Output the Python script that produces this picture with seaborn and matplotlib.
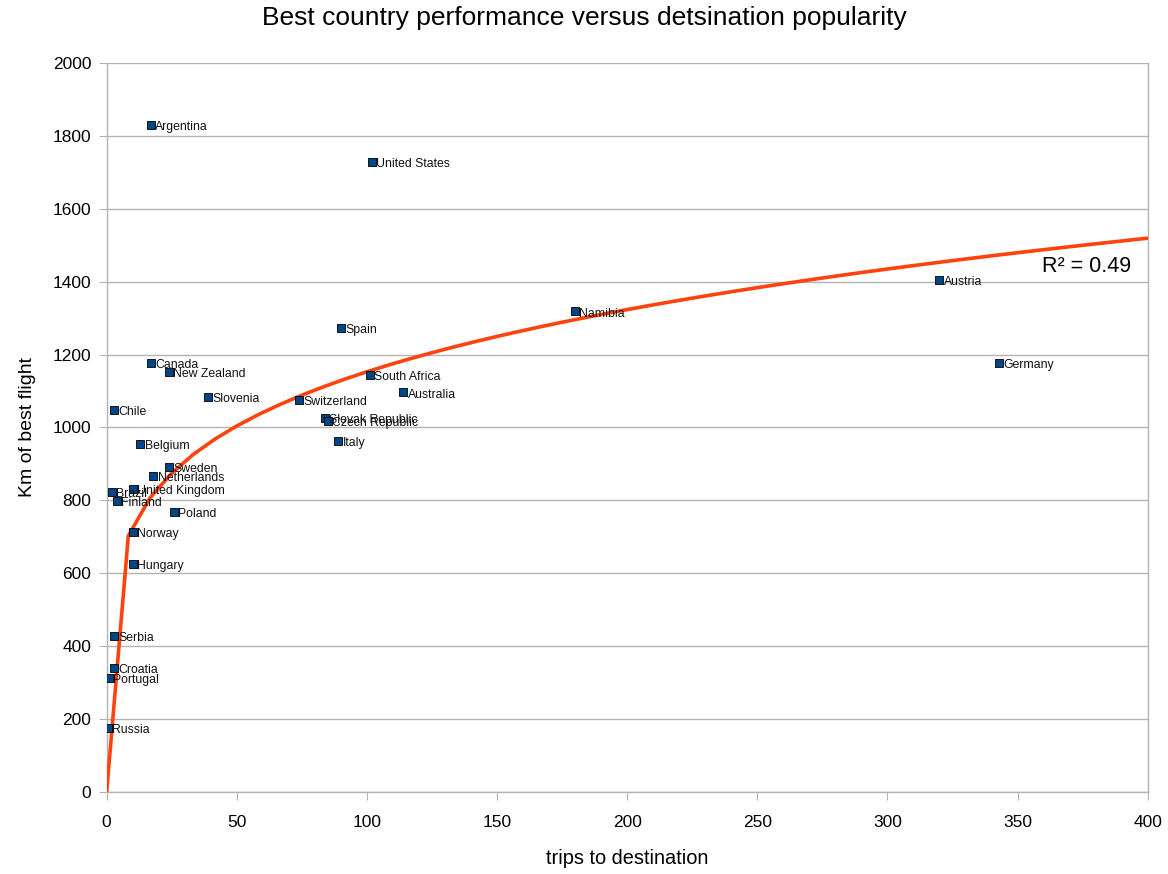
import numpy as np
import pandas as pd
import seaborn as sns
import matplotlib
matplotlib.use("Agg")
import matplotlib.pyplot as plt

# values
countries = ["Argentina", "United States", "Spain", "Namibia", "Austria", "Germany",
             "Canada", "New Zealand", "Slovenia", "Chile", "Belgium", "Sweden",
             "Netherlands", "Brazil", "United Kingdom", "Finland", "Poland", "Norway",
             "Hungary", "Serbia", "Croatia", "Portugal", "Russia", "Switzerland",
             "South Africa", "Australia", "Slovak Republic", "Czech Republic", "Italy"]
trips = [17, 102, 90, 180, 320, 343,
         17, 24, 39, 3, 13, 24,
         18, 2, 10, 4, 26, 10,
         10, 3, 3, 1, 0.5, 74,
         101, 114, 84, 85, 89]
km = [1830, 1727, 1272, 1318, 1405, 1178,
      1176, 1152, 1083, 1047, 956, 893,
      866, 824, 831, 799, 768, 714,
      627, 429, 341, 314, 176, 1075,
      1144, 1096, 1025, 1019, 964]

# power trend line parameters as shown in the chart
trend_coef = 461
trend_exp = 0.199
r_squared = "R² = 0.49"

df = pd.DataFrame({"country": countries, "trips": trips, "km": km})

sns.set_style("white")
plt.rcParams["font.family"] = ["Liberation Sans", "DejaVu Sans"]
plt.rcParams["text.color"] = "black"
plt.rcParams["axes.labelcolor"] = "black"
plt.rcParams["xtick.labelcolor"] = "black"
plt.rcParams["ytick.labelcolor"] = "black"

fig = plt.figure(figsize=(11.68, 8.74), dpi=100)
ax = fig.add_axes([0.0913, 0.0935, 0.8913, 0.8348])

# trend line, sampled coarsely like the spreadsheet does
tx = np.linspace(0, 400, 49)
ty = trend_coef * tx ** trend_exp
sns.lineplot(x=tx, y=ty, ax=ax, color="#ff420e", linewidth=2.6, zorder=3)

sns.scatterplot(data=df, x="trips", y="km", ax=ax, marker="s", s=32,
                color="#004586", edgecolor="black", linewidth=0.6, zorder=4)

for _, row in df.iterrows():
    ax.annotate(row["country"], (row["trips"], row["km"]), xytext=(3, -1.5),
                textcoords="offset points", fontsize=8.8, va="center", ha="left",
                color="#111111", zorder=5)

ax.text(376.6, 1440, r_squared, fontsize=15.5, ha="center", va="center")

ax.set_xlim(0, 400)
ax.set_ylim(0, 2000)
ax.set_xticks(range(0, 401, 50))
ax.set_yticks(range(0, 2001, 200))
ax.yaxis.grid(True, color="#b3b3b3", linewidth=1)
ax.xaxis.grid(False)
ax.tick_params(axis="both", length=6, color="#b3b3b3", labelsize=12.5,
               labelcolor="black", bottom=True, left=True)
ax.tick_params(axis="x", pad=10)
ax.tick_params(axis="y", pad=5)
for side in ["left", "bottom", "right"]:
    ax.spines[side].set_color("#b3b3b3")
    ax.spines[side].set_linewidth(1)
ax.spines["top"].set_visible(False)

ax.set_xlabel("trips to destination", fontsize=14.4, labelpad=14)
ax.set_ylabel("Km of best flight", fontsize=14, labelpad=12)
fig.suptitle("Best country performance versus detsination popularity",
             fontsize=19, x=0.5, y=0.993)

fig.savefig("out.png", dpi=100)
